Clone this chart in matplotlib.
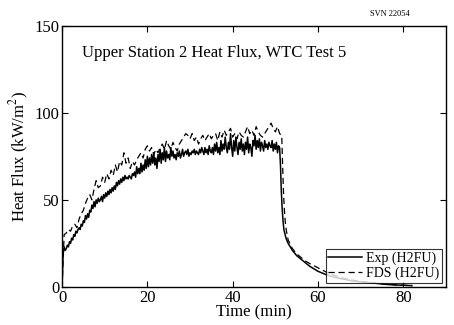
import numpy as np
import matplotlib.pyplot as plt

plt.rcParams["font.family"] = ["Liberation Serif", "DejaVu Serif"]
plt.rcParams["mathtext.fontset"] = "stix"

# Exp (H2FU): 0.25 min steps from 0 to 51 min, then decay
exp_t1 = np.arange(0, 51.01, 0.25)
exp_v1 = [
    0, 19, 23, 21, 22, 24, 23, 26, 25, 28, 27, 30, 29, 32, 31, 33,
    34, 33, 36, 35, 38, 37, 41, 39, 42, 40, 44, 43, 47, 45, 49, 46,
    50, 48, 51, 49, 50, 52, 49, 53, 51, 54, 52, 55, 53, 56, 54, 57,
    55, 58, 56, 60, 58, 61, 59, 62, 60, 63, 61, 64, 62, 63, 62, 64,
    63, 62, 65, 64, 66, 63, 69, 65, 68, 65, 71, 66, 70, 67, 73, 68,
    75, 69, 74, 70, 76, 71, 77, 70, 74, 68, 76, 72, 79, 71, 77, 73,
    80, 72, 78, 74, 76, 73, 80, 75, 78, 74, 76, 73, 77, 75, 78, 74,
    76, 79, 75, 77, 78, 76, 79, 75, 77, 76, 78, 77, 79, 76, 78, 77,
    76, 79, 77, 80, 78, 76, 80, 77, 79, 76, 81, 78, 77, 80, 76, 82,
    78, 83, 77, 80, 76, 84, 78, 82, 79, 86, 80, 77, 83, 79, 88, 80,
    75, 84, 78, 86, 80, 76, 83, 79, 85, 78, 82, 76, 83, 79, 86, 77,
    82, 80, 75, 84, 81, 87, 79, 84, 80, 85, 78, 83, 81, 78, 84, 80,
    82, 79, 83, 81, 80, 84, 78, 82, 79, 83, 77, 81, 80,
]
exp_t2 = [51.2, 51.4, 51.6, 51.8, 52, 52.5, 53, 54, 55, 56, 57, 58, 60, 62,
          64, 66, 68, 70, 72, 74, 76, 78, 80, 82]
exp_v2 = [70, 55, 45, 38, 33, 28, 25, 21, 18, 16, 14, 12, 9, 7,
          5.5, 4.5, 3.5, 3, 2.5, 2, 1.5, 1.2, 1, 0.8]

# FDS (H2FU): 0.5 min steps from 0 to 51.5 min, then decay
fds_t1 = np.arange(0, 51.51, 0.5)
fds_v1 = [
    0, 30, 31, 33, 32, 35, 36, 34, 39, 42, 44, 48, 51, 53, 50, 56,
    61, 57, 58, 63, 60, 65, 62, 67, 64, 70, 66, 72, 70, 77, 71, 74,
    68, 72, 70, 73, 75, 77, 74, 79, 81, 78, 80, 76, 79, 77, 80, 82,
    79, 84, 81, 79, 83, 80, 78, 82, 84, 86, 88, 87, 85, 88, 84, 86,
    82, 85, 87, 84, 86, 88, 85, 87, 88, 84, 89, 86, 90, 87, 89, 91,
    86, 88, 85, 89, 87, 86, 89, 92, 88, 90, 87, 92, 89, 87, 86, 88,
    90, 92, 94, 91, 89, 92, 88, 87,
]
fds_t2 = [51.7, 51.9, 52.1, 52.3, 52.6, 53, 54, 55, 56, 57, 58, 60, 62,
          64, 66, 68, 70, 72, 74, 76, 78, 80, 82]
fds_v2 = [70, 55, 45, 38, 32, 27, 22, 19, 17, 15, 13.5, 11, 8.5,
          6.5, 5, 4, 3.2, 2.6, 2, 1.6, 1.3, 1.0, 0.8]

exp_t = np.concatenate([exp_t1, exp_t2])
exp_v = np.concatenate([exp_v1, exp_v2])
fds_t = np.concatenate([fds_t1, fds_t2])
fds_v = np.concatenate([fds_v1, fds_v2])

fig = plt.figure(figsize=(4.54, 3.25), dpi=100)
ax = fig.add_axes([0.1366, 0.1169, 0.8458, 0.8046])

ax.plot(exp_t, exp_v, "k-", lw=1.1, label="Exp (H2FU)")
ax.plot(fds_t, fds_v, "k--", lw=0.9, dashes=(5, 3), label="FDS (H2FU)")

ax.set_xlim(0, 90)
ax.set_ylim(0, 150)
ax.set_xticks([0, 20, 40, 60, 80])
ax.set_yticks([0, 50, 100, 150])
ax.tick_params(direction="in", top=True, right=True, length=4, labelsize=12, pad=2)
for s in ax.spines.values():
    s.set_linewidth(1.0)

ax.set_xlabel("Time (min)", fontsize=12, labelpad=-1)
ax.set_ylabel("Heat Flux (kW/m$^2$)", fontsize=12, labelpad=2)

ax.text(0.052, 0.895, "Upper Station 2 Heat Flux, WTC Test 5", transform=ax.transAxes,
        fontsize=12, va="center", ha="left")
fig.text(0.903, 0.957, "SVN 22054", fontsize=6, ha="right", va="center")

leg = ax.legend(loc="lower right", fontsize=10, frameon=True, fancybox=False,
                borderpad=0.2, handlelength=2.4, handletextpad=0.3,
                labelspacing=0.1, borderaxespad=0.3)
leg.get_frame().set_edgecolor("black")
leg.get_frame().set_linewidth(0.8)

fig.savefig("out.png", dpi=100)
